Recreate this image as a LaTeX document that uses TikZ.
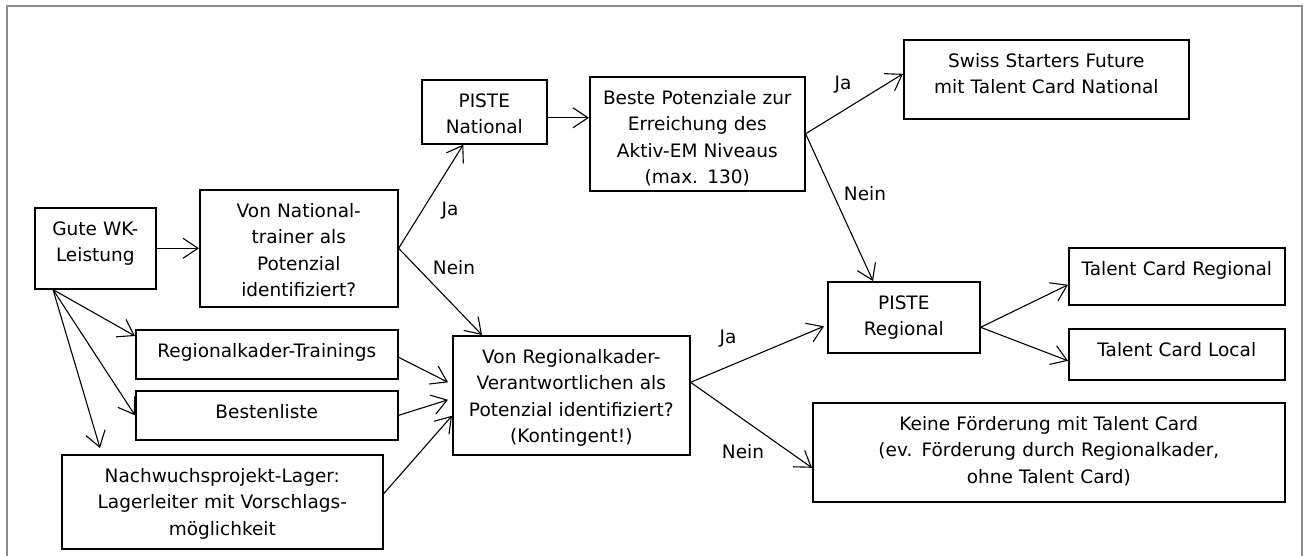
\documentclass[tikz,border=0pt]{standalone}
\usepackage{fontspec}
\setmainfont{DejaVu Sans}
\usetikzlibrary{arrows.meta}

\tikzset{
  box/.style={draw, line width=1.6pt, align=center, inner sep=0pt,
    text height=27.5pt, anchor=north west,
    font=\fontsize{18.5}{26.5}\selectfont},
  lbl/.style={inner sep=0pt, font=\fontsize{18.5}{26.5}\selectfont},
  arr/.style={line width=1.1pt, -{Straight Barb[length=15pt,width=20pt]}},
}

\begin{document}
\begin{tikzpicture}[x=1pt, y=-1pt]

    \useasboundingbox (0,0) rectangle (1309,556);

    % Frame (open at the bottom)
    \draw[black!45, line width=2pt] (7,556) -- (7,6) -- (1302,6) -- (1302,556);

    % Left column
    \node[box, text width=121pt, text depth=53.5pt] (gute) at (34,207) {Gute WK-\\Leistung};
    \node[box, text width=262pt, text depth=21.5pt] (rtr)  at (135,329) {Regionalkader-Trainings};
    \node[box, text width=262pt, text depth=21.5pt] (best) at (135,390) {Bestenliste};
    \node[box, text width=321pt, text depth=66.5pt] (nach) at (61,454)
        {Nachwuchsprojekt-Lager:\\Lagerleiter mit Vorschlags-\\möglichkeit};

    % Questions
    \node[box, text width=198pt, text depth=89.5pt] (natq) at (199,189)
        {Von National-\\trainer als\\Potenzial\\identifiziert?};
    \node[box, text width=237pt, text depth=91.5pt] (regq) at (452,335)
        {Von Regionalkader-\\Verantwortlichen als\\Potenzial identifiziert?\\(Kontingent!)};

    % National path
    \node[box, text width=125pt, text depth=36.5pt] (pnat)  at (421,79) {PISTE\\National};
    \node[box, text width=215pt, text depth=86.5pt] (beste) at (589,76)
        {Beste Potenziale zur\\Erreichung des\\Aktiv-EM Niveaus\\(max. 130)};
    \node[box, text width=285pt, text depth=51.5pt] (swiss) at (903,39)
        {Swiss Starters Future\\mit Talent Card National};

    % Regional path
    \node[box, text width=152pt, text depth=43.5pt] (preg)  at (827,281) {PISTE\\Regional};
    \node[box, text width=216pt, text depth=29.5pt] (treg)  at (1068,247) {Talent Card Regional};
    \node[box, text width=216pt, text depth=23.5pt] (tloc)  at (1068,328) {Talent Card Local};
    \node[box, text width=472pt, text depth=71.5pt] (keine) at (812,402)
        {Keine Förderung mit Talent Card\\(ev. Förderung durch Regionalkader,\\ohne Talent Card)};

    % Answers
    \node[lbl] (ja1)   at (450,211) {Ja};
    \node[lbl] (nein1) at (454,268) {Nein};
    \node[lbl] (ja2)   at (843,85)  {Ja};
    \node[lbl] (nein2) at (865,194) {Nein};
    \node[lbl] (ja3)   at (728,339) {Ja};
    \node[lbl] (nein3) at (743,452) {Nein};

    % Connectors
    \draw[arr] (gute.east) -- (natq.west);
    \draw[arr] ([xshift=19pt]gute.south west) -- ([yshift=-7pt]rtr.north west);
    \draw[arr] ([xshift=19pt]gute.south west) -- (best.west);
    \draw[arr] ([xshift=19pt]gute.south west) -- ([xshift=39pt,yshift=6pt]nach.north west);

    \draw[arr] (natq.east) -- ([xshift=-21pt]pnat.south);
    \draw[arr] (natq.east) -- ([xshift=30pt]regq.north west);

    \draw[arr] ([yshift=-6pt]pnat.east) -- ([yshift=16pt]beste.west);
    \draw[arr] (beste.east) -- ([yshift=5.5pt]swiss.west);
    \draw[arr] (beste.east) -- ([xshift=46pt]preg.north west);

    \draw[arr] ([yshift=-3pt]rtr.east) -- ([xshift=-4pt,yshift=13pt]regq.west);
    \draw[arr] (best.east) -- ([xshift=-4pt,yshift=-4.5pt]regq.west);
    \draw[arr] ([yshift=8pt]nach.east) -- ([yshift=-20.5pt]regq.west);

    \draw[arr] ([yshift=13pt]regq.east) -- ([xshift=-3pt,yshift=-9pt]preg.west);
    \draw[arr] ([yshift=13pt]regq.east) -- ([yshift=-15.5pt]keine.west);

    \draw[arr] ([yshift=-10pt]preg.east) -- ([yshift=-8.5pt]treg.west);
    \draw[arr] ([yshift=-10pt]preg.east) -- ([yshift=-6.5pt]tloc.west);

\end{tikzpicture}
\end{document}
